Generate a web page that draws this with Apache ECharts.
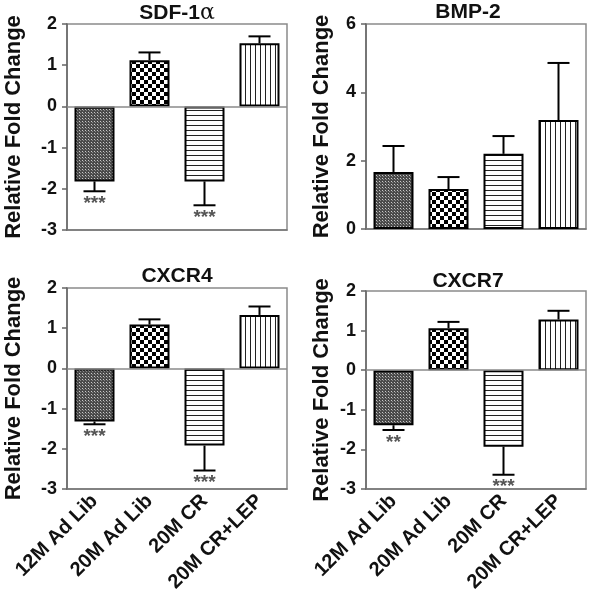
<!DOCTYPE html>
<html><head><meta charset="utf-8">
<script src="https://cdn.jsdelivr.net/npm/echarts@6/dist/echarts.min.js"></script>
<style>html,body{margin:0;padding:0;background:#fff}#c{width:589px;height:601px}</style>
</head><body><div id="c"></div>
<script>
// ---- data ----
const categories = ['12M Ad Lib', '20M Ad Lib', '20M CR', '20M CR+LEP'];
const sdfMean = [-1.82, 1.12, -1.82, 1.53];
const sdfErr = [0.24, 0.19, 0.58, 0.17];
const sdfStars = ['***', '', '***', ''];
const bmpMean = [1.67, 1.17, 2.20, 3.19];
const bmpErr = [0.76, 0.35, 0.52, 1.67];
const bmpStars = ['', '', '', ''];
const cxcr4Mean = [-1.32, 1.09, -1.92, 1.33];
const cxcr4Err = [0.07, 0.13, 0.62, 0.21];
const cxcr4Stars = ['***', '', '***', ''];
const cxcr7Mean = [-1.39, 1.06, -1.93, 1.28];
const cxcr7Err = [0.12, 0.16, 0.71, 0.22];
const cxcr7Stars = ['**', '', '***', ''];
const yTicksSigned = { min: -3, max: 2, interval: 1 };
const yTicksBmp = { min: 0, max: 6, interval: 2 };

// ---- patterns ----
function mk(w, h, draw) {
  const c = document.createElement('canvas'); c.width = w; c.height = h;
  const g = c.getContext('2d'); draw(g); return { image: c, repeat: 'repeat' };
}
const patFine = mk(3, 3, g => { g.fillStyle = '#4a4a4a'; g.fillRect(0, 0, 3, 3); g.fillStyle = '#c8c8c8'; g.fillRect(1, 1, 1, 1); g.fillStyle='#888'; g.fillRect(2,2,1,1); });
const patCheck = mk(8, 8, g => { g.fillStyle = '#fff'; g.fillRect(0, 0, 8, 8); g.fillStyle = '#000'; g.fillRect(0, 0, 4, 4); g.fillRect(4, 4, 4, 4); });
const patHoriz = mk(5, 5, g => { g.fillStyle = '#fff'; g.fillRect(0, 0, 5, 5); g.fillStyle = '#222'; g.fillRect(0, 0, 5, 1); });
const patVert = mk(5, 5, g => { g.fillStyle = '#fff'; g.fillRect(0, 0, 5, 5); g.fillStyle = '#222'; g.fillRect(0, 0, 1, 5); });
const patterns = [patFine, patCheck, patHoriz, patVert];

const FONT = 'Liberation Sans, Arial, Helvetica, sans-serif';
const panels = [
  { title: 'SDF-1{a|α}', mean: sdfMean, err: sdfErr, stars: sdfStars, y: yTicksSigned, grid: { left: 67, top: 24, width: 220, height: 206 }, labels: false, gap: 42, tx: 177, ty: 2 },
  { title: 'BMP-2', mean: bmpMean, err: bmpErr, stars: bmpStars, y: yTicksBmp, grid: { left: 366, top: 24, width: 220, height: 205 }, labels: false, gap: 33, tx: 468, ty: 2 },
  { title: 'CXCR4', mean: cxcr4Mean, err: cxcr4Err, stars: cxcr4Stars, y: yTicksSigned, grid: { left: 67, top: 288, width: 220, height: 201 }, labels: true, gap: 42, tx: 177, ty: 266 },
  { title: 'CXCR7', mean: cxcr7Mean, err: cxcr7Err, stars: cxcr7Stars, y: yTicksSigned, grid: { left: 366, top: 291, width: 220, height: 198 }, labels: true, gap: 33, tx: 468, ty: 271 }
];

const option = { animation: false, title: [], grid: [], xAxis: [], yAxis: [], series: [] };
panels.forEach((p, k) => {
  option.title.push({ text: p.title, left: p.tx, top: p.ty, textAlign: 'center', padding: 0,
    textStyle: { fontFamily: FONT, fontWeight: 'bold', fontSize: 21, color: '#111',
      rich: { a: { fontFamily: 'DejaVu Serif, serif', fontWeight: 'normal', fontSize: 22, color: '#111' } } } });
  option.grid.push(Object.assign({ show: true, borderColor: '#8a8a8a', borderWidth: 1.5, backgroundColor: 'transparent' }, p.grid));
  option.xAxis.push({ type: 'category', gridIndex: k, data: categories,
    axisLine: { onZero: false, lineStyle: { color: '#777', width: 1.5 } },
    axisTick: { alignWithLabel: true, length: 5, lineStyle: { color: '#777', width: 1.5 } },
    axisLabel: { show: p.labels, rotate: 45, interval: 0, margin: 9, fontFamily: FONT, fontWeight: 'bold', fontSize: 20, color: '#111' } });
  option.yAxis.push({ type: 'value', gridIndex: k, min: p.y.min, max: p.y.max, interval: p.y.interval,
    name: 'Relative Fold Change', nameLocation: 'middle', nameGap: p.gap,
    nameTextStyle: { fontFamily: FONT, fontWeight: 'bold', fontSize: 22, color: '#111' },
    axisLine: { show: true, lineStyle: { color: '#666', width: 1.5 } },
    axisTick: { show: true, length: 5, lineStyle: { color: '#666', width: 1.5 } },
    splitLine: { show: false },
    axisLabel: { margin: 10, fontFamily: FONT, fontWeight: 'bold', fontSize: 18, color: '#111' } });
  option.series.push({ type: 'bar', xAxisIndex: k, yAxisIndex: k, barWidth: 40,
    data: p.mean.map((v, i) => ({ value: v, itemStyle: { color: patterns[i], borderColor: '#000', borderWidth: 2 } })),
    markLine: p.y.min < 0 ? { silent: true, symbol: 'none', label: { show: false },
      lineStyle: { color: '#8a8a8a', width: 1.5, type: 'solid' }, data: [{ yAxis: 0 }] } : undefined,
    z: 2 });
  option.series.push({ type: 'custom', xAxisIndex: k, yAxisIndex: k, z: 3,
    data: p.mean.map((v, i) => [i, v, v < 0 ? v - p.err[i] : v + p.err[i], p.stars[i]]),
    renderItem: function (params, api) {
      const i = api.value(0), v = api.value(1), e = api.value(2);
      const s = p.stars[i];
      const a = api.coord([i, v]), b = api.coord([i, e]);
      const hw = 11;
      const ch = [
        { type: 'line', shape: { x1: a[0], y1: a[1], x2: b[0], y2: b[1] }, style: { stroke: '#000', lineWidth: 2 } },
        { type: 'line', shape: { x1: b[0] - hw, y1: b[1], x2: b[0] + hw, y2: b[1] }, style: { stroke: '#000', lineWidth: 2 } }
      ];
      if (s) ch.push({ type: 'text', x: b[0], y: b[1] + 3, style: { text: s, fill: '#555', font: 'bold 19px ' + FONT, textAlign: 'center', textVerticalAlign: 'top' } });
      return { type: 'group', children: ch };
    } });
});
const chart = echarts.init(document.getElementById('c'), null, { renderer: 'canvas' });
chart.setOption(option);
</script></body></html>
